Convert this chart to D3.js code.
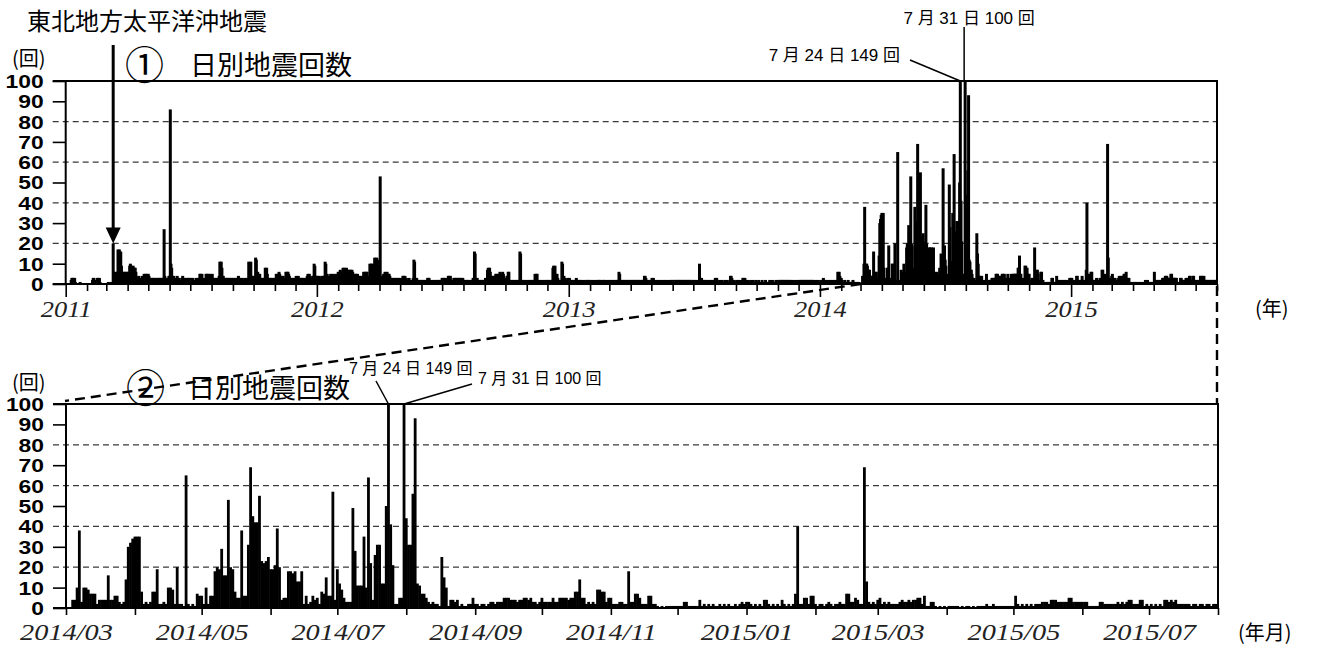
<!DOCTYPE html>
<html>
<head>
<meta charset="utf-8">
<script src="https://cdn.jsdelivr.net/npm/d3@7"></script>
<style>
  body { margin: 0; background: #fff; }
  svg { display: block; }
</style>
</head>
<body>
<svg id="chart" width="1318" height="648"></svg>
<script>
// 日別地震回数 — one row per month, one value per day
const counts2011 = [
  [0,0,0,0,0,0,0,0,2,3,3,3,2,3,1,0,0,0,0,0,0,1,0,0,0,0,0,0,0,0,0],
  [0,0,0,0,0,0,0,0,2,3,3,2,0,0,0,3,3,2,3,1,0,0,0,0,0,0,0,0],
  [0,0,0,1,0,0,0,1,0,0,20,6,5,6,5,4,6,17,15,17,12,16,9,6,5,6,5,6,4,6,5],
  [6,5,6,9,10,8,9,8,9,7,8,8,6,3,2,3,4,2,3,2,3,4,3,2,5,4,5,4,5,3],
  [5,4,3,3,2,3,2,3,3,2,3,2,2,3,3,2,3,2,3,2,3,3,2,27,4,3,2,3,2,3,4],
  [4,86,10,8,4,3,4,3,2,3,2,4,3,2,3,2,1,2,3,4,3,2,3,2,2,3,2,3,2,3],
  [2,3,2,2,3,2,1,2,2,3,2,2,3,2,5,5,4,5,3,2,2,2,3,5,5,4,5,4,5,3,4],
  [4,5,3,2,3,2,3,2,3,2,3,4,11,10,11,8,3,4,3,2,3,2,3,3,2,3,2,3,2,3,2],
  [2,3,2,3,2,2,3,3,4,3,3,2,2,3,2,1,2,3,2,2,3,2,3,11,6,10,11,4,3,4],
  [3,4,3,13,12,5,6,5,4,5,3,2,3,2,3,2,3,8,7,8,5,3,2,3,2,3,2,3,2,2,3],
  [3,2,5,4,5,5,6,5,3,2,4,3,4,3,2,3,6,5,6,6,5,4,2,3,2,3,2,3,2,3],
  [3,4,3,3,4,3,2,3,3,2,3,2,3,2,3,2,3,4,5,4,5,4,3,3,3,4,4,10,9,3,4]
]
const counts2012 = [
  [3,4,3,4,3,2,3,4,3,4,3,4,11,10,4,5,4,4,3,4,5,4,3,4,5,4,3,4,5,4,3],
  [6,5,6,7,5,6,6,8,7,8,6,7,8,6,7,6,7,5,7,6,7,6,5,4,5,4,5,4,5],
  [4,3,4,3,4,3,2,4,6,5,6,5,6,6,4,3,4,10,9,10,8,10,9,4,13,12,11,13,12,9,5],
  [6,53,4,3,3,4,5,5,6,5,5,6,4,5,5,4,2,3,2,3,2,2,3,2,3,2,3,2,3,2],
  [2,3,2,2,4,4,3,4,2,3,2,1,2,3,2,2,1,2,2,3,12,11,3,2,3,2,2,1,2,2,1],
  [2,1,2,2,1,2,1,2,2,3,3,3,2,1,1,2,1,1,2,1,2,1,1,2,2,1,2,1,2,1],
  [3,2,3,3,2,3,1,2,1,4,4,3,4,2,1,2,2,3,3,2,3,3,2,3,2,3,3,2,3,2,3],
  [2,1,2,2,1,2,2,1,2,1,2,1,2,2,3,3,16,15,3,2,3,2,1,2,1,2,2,1,2,1,2],
  [2,3,2,3,7,8,7,8,6,4,3,4,3,4,2,4,5,5,4,2,5,4,6,5,4,3,6,5,4,3],
  [2,2,3,4,6,6,2,1,2,1,2,1,2,1,2,1,2,1,2,1,2,16,15,2,1,2,1,2,1,2,1],
  [1,2,1,2,1,2,1,2,1,2,1,2,5,4,5,5,2,1,1,2,1,2,1,1,2,1,2,1,1,2],
  [2,1,2,1,2,1,2,1,8,9,8,9,5,4,5,3,2,2,1,2,1,11,10,3,4,2,3,2,1,2,3]
]
const counts2013 = [
  [2,3,2,1,2,2,1,2,1,2,2,3,2,1,2,2,1,2,1,2,1,1,2,1,1,2,1,2,2,1,2],
  [1,2,1,1,2,1,1,2,1,1,2,1,2,2,2,1,2,1,1,2,2,2,1,1,2,1,1,2],
  [1,2,1,2,1,1,2,1,2,1,2,1,2,2,6,5,2,2,1,2,1,2,2,1,2,1,2,2,1,2,1],
  [2,1,2,2,1,2,2,1,2,2,1,2,2,1,2,1,2,2,1,2,4,4,3,2,2,1,2,1,2,1],
  [2,3,2,3,2,1,2,1,1,2,1,1,2,1,1,2,1,1,2,1,2,1,1,2,1,1,2,1,2,1,2],
  [2,1,2,2,1,2,2,2,1,2,2,2,1,2,2,1,2,2,2,1,2,2,1,2,2,2,1,2,2,1],
  [2,1,2,1,2,1,1,2,1,10,3,2,3,2,2,1,2,1,2,1,2,1,1,2,1,2,1,1,2,1,2],
  [2,3,2,3,2,1,1,1,2,1,1,2,1,1,1,2,1,1,2,1,1,1,2,4,4,3,2,1,2,1,1],
  [1,2,1,1,2,1,1,2,1,1,3,3,2,3,1,2,1,1,2,1,1,1,2,1,1,2,1,1,1,2],
  [1,1,1,2,1,1,1,1,2,1,1,1,1,2,1,1,1,1,1,2,1,1,1,2,1,1,1,1,2,1,1],
  [2,1,2,2,1,2,2,2,1,2,2,1,2,2,2,1,2,1,2,2,1,1,2,1,1,2,1,1,2,1],
  [1,2,2,1,2,2,2,1,2,2,1,2,2,2,1,2,2,1,2,2,2,1,2,1,1,2,1,1,2,1,1]
]
const counts2014 = [
  [1,2,1,2,2,3,2,2,1,2,1,1,2,1,1,2,1,1,2,1,1,2,1,2,1,1,6,5,6,4,2],
  [3,2,1,1,1,2,1,1,1,1,2,1,1,1,1,1,1,2,1,1,1,1,1,0,1,1,1,0],
  [0,0,0,4,4,10,38,3,10,10,9,7,7,7,2,4,4,4,4,16,4,4,6,6,3,2,3,14,30,32,34],
  [35,35,35,8,2,3,2,3,8,8,19,2,2,3,2,10,10,9,2,20,2,2,1,65,2,1,2,1,7,6],
  [6,2,10,2,6,6,18,20,19,29,16,16,53,20,19,8,5,5,38,6,6,31,69,45,42,42,55,23,22,23,25],
  [19,19,21,39,20,4,5,5,18,18,17,18,13,13,18,2,6,2,3,6,4,5,2,8,7,15,6,6,57,4],
  [19,12,9,5,3,3,3,49,28,11,11,11,35,10,64,22,4,26,31,31,12,12,50,149,41,21,2,2,5,5,100],
  [44,31,31,56,93,12,11,7,7,5,3,2,3,2,2,1,25,15,10,1,4,4,3,4,1,2,1,1,2,2,5],
  [2,2,1,2,2,1,2,3,3,2,3,3,3,5,5,5,4,4,4,3,4,4,5,5,4,5,3,3,2,3],
  [5,3,3,3,3,5,3,3,5,5,5,5,4,5,5,8,8,14,5,5,2,3,2,3,2,9,9,8,8,3,5],
  [5,2,2,2,3,3,2,2,18,3,3,7,7,5,2,2,2,6,6,2,2,1,0,1,0,1,1,1,1,1],
  [1,1,1,3,3,1,1,1,1,1,4,1,2,1,2,1,2,1,1,2,1,2,1,2,1,1,2,1,2,3,2]
]
const counts2015 = [
  [3,3,2,1,2,1,2,1,4,4,2,1,2,1,2,1,4,2,1,2,1,2,7,40,2,2,5,5,2,6,6],
  [2,1,2,2,1,2,3,2,1,2,2,3,2,2,7,7,3,3,5,4,2,2,69,13,3,2,3,2],
  [4,5,2,3,2,3,2,2,2,2,3,4,3,3,4,3,4,4,5,5,2,6,1,1,3,3,1,0,1,0,1],
  [0,1,1,1,1,1,0,1,0,1,1,0,1,0,1,1,1,1,2,1,1,2,1,1,1,1,1,1,1,1],
  [1,6,2,1,2,1,2,1,2,1,2,2,2,3,3,3,2,4,4,4,3,3,3,3,3,5,5,3,3,3,3],
  [3,3,3,1,1,1,1,1,3,3,2,2,2,2,2,2,3,2,3,2,3,4,4,2,2,2,4,4,1,2],
  [1,2,1,2,1,2,1,4,4,3,4,3,4,2,2,2,2,2,2,1,2,2,1,2,2,1,2,2,1,2,2]
]

const yTicks = d3.range(0, 101, 10)
const gridTicks = [20, 40, 60, 80]
const quakeDate = new Date(2011, 2, 11)   // 東北地方太平洋沖地震
const peak1 = new Date(2014, 6, 24)
const peak2 = new Date(2014, 6, 31)

function toDays(year, months) {
  const out = []
  months.forEach((days, m) => days.forEach((v, i) => out.push({ date: new Date(year, m, i + 1), v })))
  return out
}
const daily = [].concat(
  toDays(2011, counts2011), toDays(2012, counts2012), toDays(2013, counts2013),
  toDays(2014, counts2014), toDays(2015, counts2015))

const cjk = '"Noto Sans CJK JP", sans-serif'
const sans = '"Liberation Sans", Arial, "Noto Sans CJK JP", sans-serif'
const serif = '"Liberation Serif", "Times New Roman", serif'

const svg = d3.select('#chart')

const start1 = new Date(2011, 0, 1), start2 = new Date(2014, 2, 1), end = new Date(2015, 7, 1)
const xTop = d3.scaleTime().domain([start1, end]).range([65.7, 1217])
const yTop = d3.scaleLinear().domain([0, 100]).range([284, 81]).clamp(true)
const xBot = d3.scaleTime().domain([start2, end]).range([66, 1218])
const yBot = d3.scaleLinear().domain([0, 100]).range([608, 404]).clamp(true)

function drawPanel(p) {
  const g = svg.append('g')
  const [x0, x1] = p.x.range()
  const y0 = p.y(0), y100 = p.y(100)

  g.append('g').selectAll('line').data(gridTicks).join('line')
    .attr('x1', x0 - 13).attr('x2', x1)
    .attr('y1', d => p.y(d)).attr('y2', d => p.y(d))
    .attr('stroke', '#3a3a3a').attr('stroke-width', 1.3).attr('stroke-dasharray', '6,4')

  const rows = p.data.filter(d => d.v > 0 && d.date >= p.x.domain()[0] && d.date < p.x.domain()[1])
  g.append('g').selectAll('rect').data(rows).join('rect')
    .attr('x', d => p.x(d.date) - p.barW / 2)
    .attr('width', p.barW)
    .attr('y', d => p.y(d.v))
    .attr('height', d => y0 - p.y(d.v))
    .attr('fill', '#000')

  // frame
  g.append('path')
    .attr('d', `M${x0 - 13},${y100}H${x1}V${y0}H${x0 - 13}M${x0},${y100}V${y0}`)
    .attr('fill', 'none').attr('stroke', '#000').attr('stroke-width', 2)

  // y axis
  const ya = g.append('g').attr('transform', `translate(${x0},0)`)
    .call(d3.axisLeft(p.y).tickValues(yTicks).tickSize(13).tickPadding(0))
  ya.attr('font-size', null).attr('font-family', null)
  ya.select('.domain').remove()
  ya.selectAll('.tick line').attr('stroke', '#000').attr('stroke-width', 1.6)
    .filter(d => gridTicks.includes(d)).remove()
  ya.selectAll('.tick text')
    .attr('x', 0).attr('dy', '0.36em').attr('fill', '#000')
    .attr('transform', 'translate(-22,0) scale(1.27,1)')
    .style('font-family', sans).style('font-size', '18px').style('font-weight', 'bold')

  // x axis, one tick per month
  const months = d3.timeMonth.range(p.x.domain()[0], d3.timeDay.offset(p.x.domain()[1], 1))
  const xa = g.append('g').attr('transform', `translate(0,${y0})`)
    .call(d3.axisBottom(p.x).tickValues(months).tickSizeOuter(0).tickSize(7)
      .tickFormat(d => p.labelOf(d)))
  xa.attr('font-size', null).attr('font-family', null)
  xa.select('.domain').remove()
  xa.selectAll('.tick line').attr('stroke', '#000').attr('stroke-width', 1.6)
    .attr('y2', d => p.isLong(d) ? 13 : 7)
  xa.selectAll('.tick text')
    .attr('y', 0).attr('dy', 0).attr('fill', '#222')
    .attr('transform', `translate(0,${p.labelDy}) scale(${p.labelScale},1)`)
    .style('font-family', serif).style('font-style', 'italic').style('font-size', '24px')
}

function text(str, x, y, size, opts = {}) {
  return svg.append('text')
    .attr('x', x).attr('y', y)
    .attr('text-anchor', opts.anchor || 'start')
    .attr('fill', '#000')
    .style('font-family', opts.font || cjk)
    .style('font-size', size + 'px')
    .text(str)
}

function line(x1, y1, x2, y2, w = 1.5, dash = null) {
  return svg.append('line')
    .attr('x1', x1).attr('y1', y1).attr('x2', x2).attr('y2', y2)
    .attr('stroke', '#000').attr('stroke-width', w)
    .attr('stroke-dasharray', dash)
}

// titles first, so the dashed connector sits over panel 2's title
text('(回)', 12, 66, 20)
text('①', 125, 79, 39)
text('日別地震回数', 190, 75, 27)
text('(回)', 12, 390, 20)
text('②', 126, 402, 39)
text('日別地震回数', 188, 398, 27)

drawPanel({
  x: xTop, y: yTop, data: daily, barW: 3,
  labelOf: d => d.getMonth() === 0 ? String(d.getFullYear()) : '',
  isLong: d => d.getMonth() === 0,
  labelDy: 33, labelScale: 1.1
})
drawPanel({
  x: xBot, y: yBot, data: daily, barW: 2.8,
  labelOf: d => d.getMonth() % 2 === 0 ? d3.timeFormat('%Y/%m')(d) : '',
  isLong: () => false,
  labelDy: 32, labelScale: 1.18
})

text('(年)', 1255, 316, 20)
text('(年月)', 1238, 640, 20)

// earthquake arrow
const qx = xTop(quakeDate)
text('東北地方太平洋沖地震', 27, 30, 24)
line(qx, 45, qx, yTop(20) - 14, 3)
svg.append('path')
  .attr('d', `M${qx - 7.5},${yTop(20) - 16}L${qx + 7.5},${yTop(20) - 16}L${qx},${yTop(20)}Z`)
  .attr('fill', '#000')

// peak annotations, panel 1
text('7 月 31 日 100 回', xTop(peak2) + 4, 24, 17, { anchor: 'middle', font: sans })
line(xTop(peak2) - 1, 27, xTop(peak2) - 1, yTop(100))
text('7 月 24 日 149 回', 900, 61, 17, { anchor: 'end', font: sans })
line(910, 60, xTop(peak1), yTop(100))

// peak annotations, panel 2 (nudged right of the title)
text('7 月 24 日 149 回', 349, 374, 16, { font: sans })
line(376, 381, xBot(peak1), yBot(100))
text('7 月 31 日 100 回', 478, 384, 16, { font: sans })
line(xBot(peak2), yBot(100), 472, 384)

// zoom connectors
line(xTop(start2), yTop(0), xBot(start2) - 1, yBot(100) - 3, 2.4, '10,6')
line(xTop(end), yTop(0) + 2, xTop(end), yBot(100), 2.4, '10,6')
</script>
</body>
</html>
